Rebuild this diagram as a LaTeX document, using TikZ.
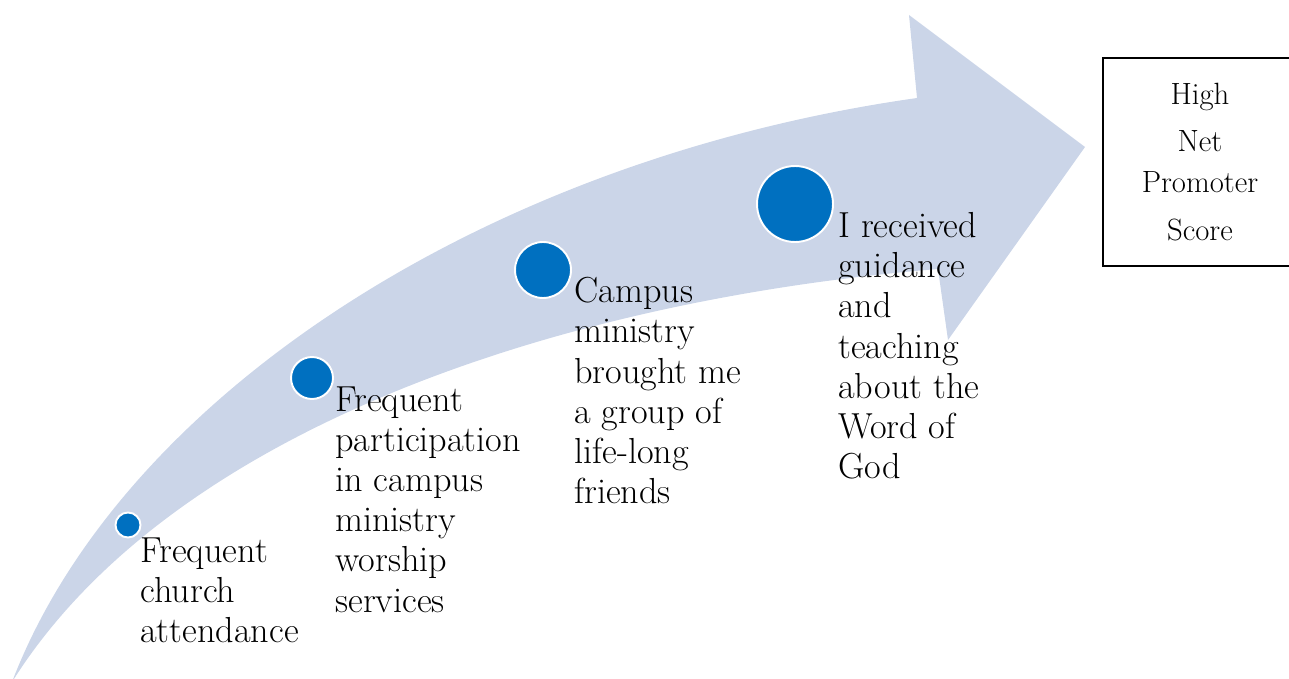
\documentclass[tikz,border=0pt]{standalone}
\usepackage{tikz}
\definecolor{bandblue}{RGB}{203,213,232}
\definecolor{dotblue}{RGB}{0,112,192}
\tikzset{
    dot/.style={circle, fill=dotblue, draw=white, line width=1.1pt, inner sep=0pt}
}
\tikzset{
    stage/.style={anchor=north west, inner sep=0pt, align=left,
    	font=\fontsize{20.6}{22.9}\selectfont}
}
\tikzset{
    scorebox/.style={draw, line width=1.3pt, align=center, inner sep=0pt,
    	minimum width=3.88cm, minimum height=4.16cm,
    	font=\fontsize{17.5}{22.9}\selectfont}
}

\begin{document}
\begin{tikzpicture}[x=0.02cm, y=-0.02cm]
	\useasboundingbox (0,0) rectangle (1289,679);

	\fill[bandblue] (12,682) .. controls (120,400) and (480,160) .. (917,98)
		-- (909,15) -- (1085,147) -- (948,340) -- (938,269)
		.. controls (560,300) and (170,430) .. (12,682) -- cycle;

	\node (c1) [dot, minimum size=0.5cm] at (128,525) {};
	\node (c2) [dot, minimum size=0.84cm] at (312,378) {};
	\node (c3) [dot, minimum size=1.12cm] at (543,270) {};
	\node (c4) [dot, minimum size=1.52cm] at (795,204) {};

	\node (t1) [stage] at (140,537) {Frequent\\church\\attendance};
	\node (t2) [stage] at (335,386) {Frequent\\participation\\in campus\\ministry\\worship\\services};
	\node (t3) [stage] at (574,277) {Campus\\ministry\\brought me\\a group of\\life-long\\friends};
	\node (t4) [stage] at (838,212) {I received\\guidance\\and\\teaching\\about the\\Word of\\God};

	\node (score) [scorebox] at (1200,162) {High\\[0.14cm]Net\\Promoter\\[0.16cm]Score};
\end{tikzpicture}
\end{document}
